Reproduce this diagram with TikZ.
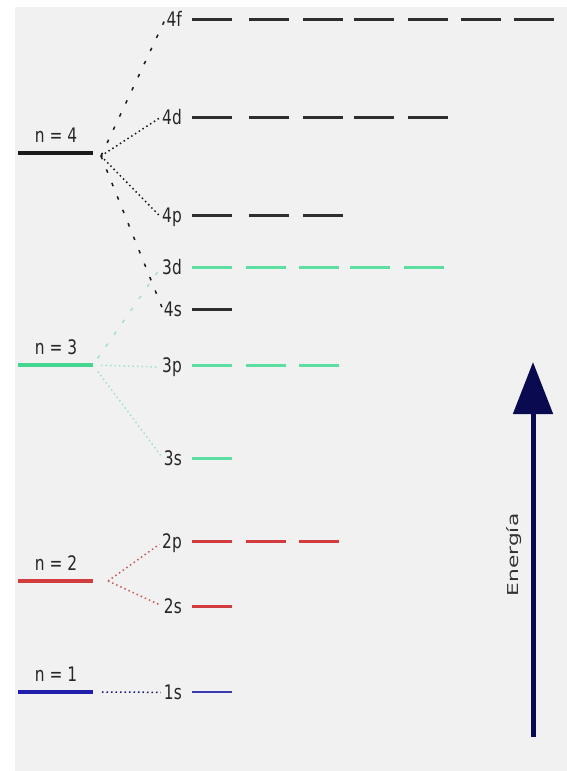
\documentclass[tikz,border=0pt]{standalone}
\usepackage{fontspec}
\setsansfont{DejaVu Sans}[FakeStretch=0.77]
\newfontfamily\energyfont{DejaVu Sans}[FakeStretch=1.45]
\usepackage{xcolor}
\usepackage{tikz}
\usetikzlibrary{arrows.meta, positioning}
\definecolor{bggray}{HTML}{F1F1F1}
\definecolor{lvlblack}{HTML}{1A1A1A}
\definecolor{orbblack}{HTML}{2E2E2E}
\definecolor{lvlgreen}{HTML}{44D68E}
\definecolor{orbgreen}{HTML}{5CDEA0}
\definecolor{dotgreen}{HTML}{9FE3CB}
\definecolor{lvlred}{HTML}{D23C3C}
\definecolor{dotred}{HTML}{C85A5A}
\definecolor{lvlblue}{HTML}{1E1EAA}
\definecolor{orbblue}{HTML}{3A3AAE}
\definecolor{navyarrow}{HTML}{0A0A50}
\tikzset{
  shell/.style={line width=4pt},
  orbdash/.style={line width=3pt},
  orblabel/.style={font=\sffamily\fontsize{20}{20}\selectfont, anchor=base east,
                   inner sep=1pt, text=black!85},
  nlabel/.style={font=\sffamily\fontsize{20}{20}\selectfont, anchor=base,
                 inner sep=1pt, text=black!85},
  splitdense/.style={line width=1.5pt, dash pattern=on 1.5pt off 3pt, shorten >=2pt},
  splitsparse/.style={line width=1.5pt, dash pattern=on 3.5pt off 11pt, shorten >=2pt},
  energyarrow/.style={line width=5pt, navyarrow, -{Triangle[length=52pt, width=39pt]}},
}

\begin{document}
\begin{tikzpicture}[x=1pt, y=-1pt]

  \useasboundingbox (0,0) rectangle (567,771);
  \fill[bggray] (15,7) rectangle (567,771);

  % --- shells ---
  \draw[shell, lvlblack] (18,153) -- (93,153);
  \node[nlabel] (n4) at (56,142) {n = 4};
  \coordinate (s4) at (101,156);
  \draw[shell, lvlgreen] (18,365) -- (93,365);
  \node[nlabel] (n3) at (56,354) {n = 3};
  \coordinate (s3) at (93,365);
  \draw[shell, lvlred] (18,581) -- (93,581);
  \node[nlabel] (n2) at (56,570) {n = 2};
  \coordinate (s2) at (108,581);
  \draw[shell, lvlblue] (18,692) -- (93,692);
  \node[nlabel] (n1) at (56,681) {n = 1};
  \coordinate (s1) at (102,692);

  % --- subshells ---
  \node[orblabel] (o4f) at (183,26.5) {4f};
  \foreach \x in {192,249,303,354,408,461,514}
    \draw[orbdash, orbblack] (\x,19) -- ++(40,0);
  \node[orblabel] (o4d) at (183,124.5) {4d};
  \foreach \x in {192,249,303,354,408}
    \draw[orbdash, orbblack] (\x,117) -- ++(40,0);
  \node[orblabel] (o4p) at (183,222.5) {4p};
  \foreach \x in {192,249,303}
    \draw[orbdash, orbblack] (\x,215) -- ++(40,0);
  \node[orblabel] (o3d) at (183,274.5) {3d};
  \foreach \x in {192,246,299,350,404}
    \draw[orbdash, orbgreen] (\x,267) -- ++(40,0);
  \node[orblabel] (o4s) at (183,316.5) {4s};
  \draw[orbdash, orbblack] (192,309) -- ++(40,0);
  \node[orblabel] (o3p) at (183,372.5) {3p};
  \foreach \x in {192,246,299}
    \draw[orbdash, orbgreen] (\x,365) -- ++(40,0);
  \node[orblabel] (o3s) at (183,465.5) {3s};
  \draw[orbdash, orbgreen] (192,458) -- ++(40,0);
  \node[orblabel] (o2p) at (183,548.5) {2p};
  \foreach \x in {192,246,299}
    \draw[orbdash, lvlred] (\x,541) -- ++(40,0);
  \node[orblabel] (o2s) at (183,613.5) {2s};
  \draw[orbdash, lvlred] (192,606) -- ++(40,0);
  \node[orblabel] (o1s) at (183,699.5) {1s};
  \draw[line width=2pt, orbblue] (192,692) -- ++(40,0);

  % --- splitting ---
  \draw[splitsparse, lvlblack] (s4) -- (o4f.west);
  \draw[splitdense, lvlblack] (s4) -- (o4d.west);
  \draw[splitdense, lvlblack] (s4) -- (o4p.west);
  \draw[splitsparse, lvlblack] (s4) -- (o4s.west);
  \draw[splitsparse, dotgreen, shorten <=8pt] (s3) -- (o3d.west);
  \draw[splitdense, dotgreen, shorten <=8pt] (s3) -- (o3p.west);
  \draw[splitdense, dotgreen, shorten <=8pt] (s3) -- (o3s.west);
  \draw[splitdense, dotred] (s2) -- (o2p.west);
  \draw[splitdense, dotred] (s2) -- (o2s.west);
  \draw[splitdense, lvlblue!70!black] (s1) -- (o1s.west);

  % --- energy axis ---
  \coordinate (ebot) at (533,737);
  \coordinate (etop) at (533,362);
  \draw[energyarrow] (ebot) -- (etop);
  \node[font=\energyfont\fontsize{15}{15}\selectfont, rotate=90, text=black!80]
    (energy) at (514,555) {Energía};

\end{tikzpicture}
\end{document}
